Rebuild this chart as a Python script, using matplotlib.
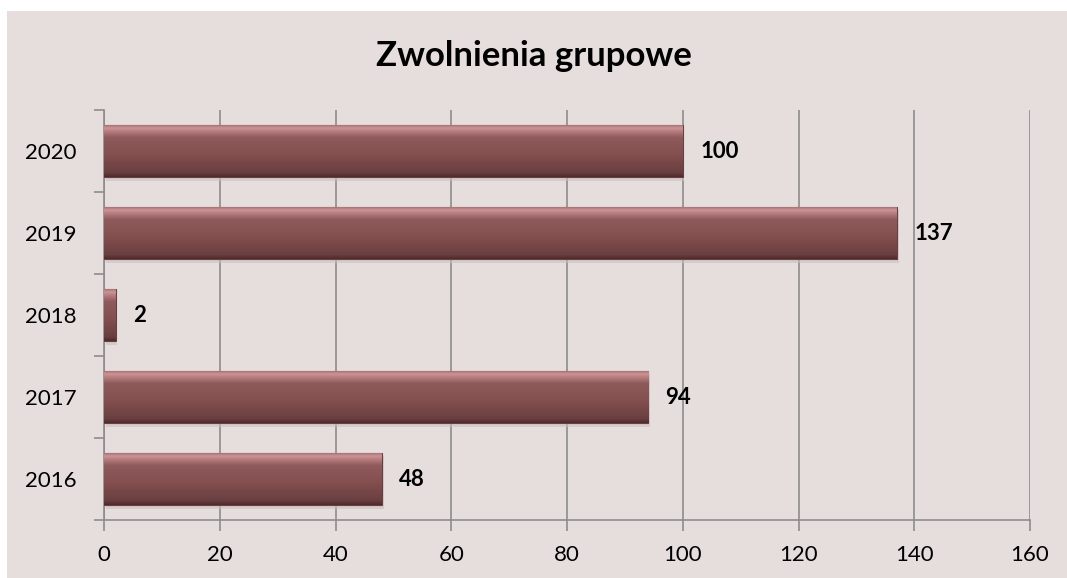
import matplotlib.pyplot as plt
import numpy as np
from matplotlib.colors import LinearSegmentedColormap
from matplotlib.patches import Rectangle

# Данные
lata = ['2016', '2017', '2018', '2019', '2020']
zwolnienia = [48, 94, 2, 137, 100]
x_ticks = [0, 20, 40, 60, 80, 100, 120, 140, 160]
tytul = 'Zwolnienia grupowe'


def main():
    plt.rcParams['font.family'] = ['Lato', 'DejaVu Sans']

    fig = plt.figure(figsize=(10.67, 5.78), dpi=100)
    fig.patch.set_facecolor('white')

    # Tło wykresu (ramka jak w Excelu)
    fig.patches.append(Rectangle((7 / 1067, 0), 1 - 7 / 1067, 1 - 11 / 578,
                                 transform=fig.transFigure, facecolor='#E6DEDD',
                                 edgecolor='none', zorder=-1))

    ax = fig.add_axes([104 / 1067, 1 - 520 / 578, 926 / 1067, 410 / 578])
    ax.set_facecolor('none')
    ax.set_zorder(1)

    y = np.arange(len(lata))
    bars = ax.barh(y, zwolnienia, height=0.64, color='#8A5456',
                   edgecolor='#6B3E40', linewidth=0.8, zorder=3)

    # Gradient na słupkach
    cmap = LinearSegmentedColormap.from_list('bar', [
        (0.0, '#4E2C2D'), (0.08, '#6A3F41'), (0.45, '#85504F'),
        (0.75, '#8E5A5C'), (0.86, '#B57A7C'), (0.93, '#CC9496'), (1.0, '#A06A6C')])
    grad = np.linspace(0, 1, 100).reshape(-1, 1)
    for b in bars:
        x0, y0 = b.get_x(), b.get_y()
        w, h = b.get_width(), b.get_height()
        # cień pod słupkiem
        ax.add_patch(Rectangle((x0 + 0.3, y0 - 0.04), w, h, facecolor='#C9BFBE',
                               edgecolor='none', alpha=0.6, zorder=2))
        im = ax.imshow(grad, cmap=cmap, aspect='auto', origin='lower',
                       extent=(x0, x0 + w, y0, y0 + h), zorder=3.5)
        im.set_clip_path(b)

    # Etykiety wartości
    for yi, v in zip(y, zwolnienia):
        ax.text(v + 3.0, yi, str(v), va='center', ha='left', fontsize=16,
                fontweight='bold', color='black', zorder=5)

    ax.set_xlim(0, 160)
    ax.set_ylim(-0.5, len(lata) - 0.5)
    ax.set_xticks(x_ticks)
    ax.set_xticklabels([str(t) for t in x_ticks], fontsize=16)
    ax.set_yticks(y)
    ax.set_yticklabels(lata, fontsize=16)
    ax.set_yticks(np.arange(-0.5, len(lata), 1), minor=True)

    ax.tick_params(axis='y', which='major', length=0, pad=20)
    ax.tick_params(axis='y', which='minor', length=7, width=1.2, color='#8C8C8C')
    ax.tick_params(axis='x', length=8, width=1.2, color='#8C8C8C', pad=10)

    ax.grid(True, axis='x', color='#8C8C8C', linewidth=1.2, zorder=1)
    ax.set_axisbelow(True)
    for s in ['top', 'right']:
        ax.spines[s].set_visible(False)
    for s in ['left', 'bottom']:
        ax.spines[s].set_color('#8C8C8C')
        ax.spines[s].set_linewidth(1.2)

    fig.text(0.5, 1 - 56 / 578, tytul, ha='center', va='center',
             fontsize=25, fontweight='bold')

    plt.savefig('out.png', dpi=100)


if __name__ == '__main__':
    main()
